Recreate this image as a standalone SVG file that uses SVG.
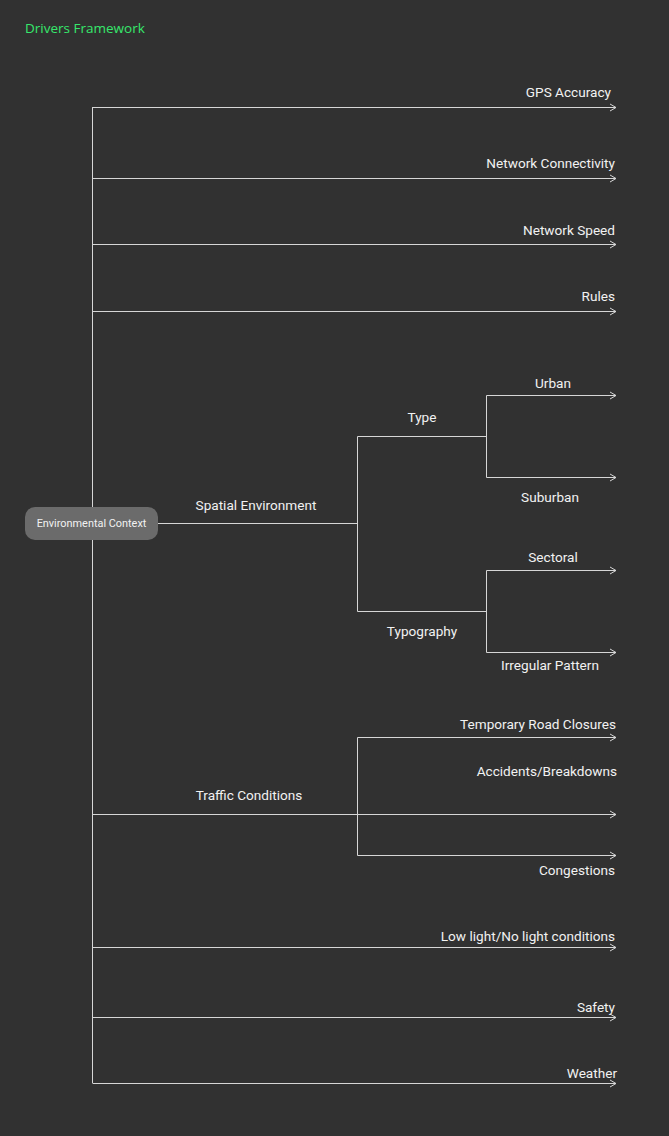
<svg xmlns="http://www.w3.org/2000/svg" width="669" height="1136" viewBox="0 0 669 1136">
<defs>
<marker id="arr" markerWidth="10" markerHeight="10" refX="8" refY="5" orient="auto" markerUnits="userSpaceOnUse">
<path d="M2,1.5 L8,5 L2,8.5" fill="none" stroke="#d6d6d6" stroke-width="1"/>
</marker>
<style>
.ln{fill:none;stroke:#d6d6d6;stroke-width:1}
.lb{font-family:Roboto,"Liberation Sans",sans-serif;font-size:13.6px;fill:#f2f2f2}
.e{text-anchor:end}
.m{text-anchor:middle}
</style>
</defs>
<rect width="669" height="1136" fill="#313131"/>
<text x="25" y="33" font-family="'Open Sans',Lato,sans-serif" font-size="13.5" fill="#36e86c">Drivers Framework</text>
<g id="connectors">
<path class="ln" d="M92.5,107 V1083"/>
<path class="ln" marker-end="url(#arr)" d="M92.5,107.5 H616"/>
<path class="ln" marker-end="url(#arr)" d="M92.5,178.5 H616"/>
<path class="ln" marker-end="url(#arr)" d="M92.5,244.5 H616"/>
<path class="ln" marker-end="url(#arr)" d="M92.5,311.5 H616"/>
<path class="ln" d="M158,523.5 H357.5"/>
<path class="ln" d="M357.5,436.5 V611.5"/>
<path class="ln" d="M357.5,436.5 H486.5"/>
<path class="ln" d="M486.5,395.5 V477.5"/>
<path class="ln" marker-end="url(#arr)" d="M486.5,395.5 H616"/>
<path class="ln" marker-end="url(#arr)" d="M486.5,477.5 H616"/>
<path class="ln" d="M357.5,611.5 H486.5"/>
<path class="ln" d="M486.5,570.5 V652.5"/>
<path class="ln" marker-end="url(#arr)" d="M486.5,570.5 H616"/>
<path class="ln" marker-end="url(#arr)" d="M486.5,652.5 H616"/>
<path class="ln" marker-end="url(#arr)" d="M92.5,814.5 H616"/>
<path class="ln" d="M357.5,737.5 V855.5"/>
<path class="ln" marker-end="url(#arr)" d="M357.5,737.5 H616"/>
<path class="ln" marker-end="url(#arr)" d="M357.5,855.5 H616"/>
<path class="ln" marker-end="url(#arr)" d="M92.5,947.5 H616"/>
<path class="ln" marker-end="url(#arr)" d="M92.5,1017.5 H616"/>
<path class="ln" marker-end="url(#arr)" d="M92.5,1083.5 H616"/>
</g>
<g id="root">
<rect x="25" y="507" width="133" height="33" rx="10" fill="#6b6b6b"/>
<text x="91.5" y="527" font-family="Roboto,'Liberation Sans',sans-serif" font-size="10.9" fill="#f2f2f2" text-anchor="middle">Environmental Context</text>
</g>
<g id="gps"><text class="lb e" x="611" y="97">GPS Accuracy</text></g>
<g id="netconn"><text class="lb e" x="615" y="168">Network Connectivity</text></g>
<g id="netspeed"><text class="lb e" x="615" y="235">Network Speed</text></g>
<g id="rules"><text class="lb e" x="615" y="301">Rules</text></g>
<g id="spatial"><text class="lb m" x="256" y="510">Spatial Environment</text></g>
<g id="type"><text class="lb m" x="422" y="422">Type</text></g>
<g id="urban"><text class="lb m" x="553" y="388">Urban</text></g>
<g id="suburban"><text class="lb m" x="550" y="502">Suburban</text></g>
<g id="typography"><text class="lb m" x="422" y="636">Typography</text></g>
<g id="sectoral"><text class="lb m" x="553" y="562">Sectoral</text></g>
<g id="irregular"><text class="lb m" x="550" y="670">Irregular Pattern</text></g>
<g id="traffic"><text class="lb m" x="249" y="800">Traffic Conditions</text></g>
<g id="closures"><text class="lb e" x="616" y="729">Temporary Road Closures</text></g>
<g id="accidents"><text class="lb e" x="617" y="776">Accidents/Breakdowns</text></g>
<g id="congestions"><text class="lb e" x="615" y="875">Congestions</text></g>
<g id="lowlight"><text class="lb e" x="615" y="941">Low light/No light conditions</text></g>
<g id="safety"><text class="lb e" x="615" y="1012">Safety</text></g>
<g id="weather"><text class="lb e" x="617" y="1078">Weather</text></g>
</svg>
